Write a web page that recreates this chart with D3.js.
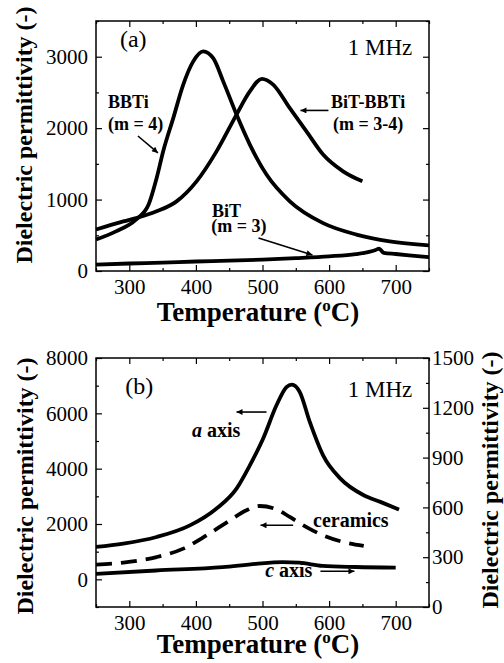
<!DOCTYPE html>
<html>
<head>
<meta charset="utf-8">
<script src="https://cdn.jsdelivr.net/npm/d3@7"></script>
<style>
  body { margin: 0; background: #fff; }
  svg { display: block; font-family: "Liberation Serif", "Times New Roman", serif; }
</style>
</head>
<body>
<div id="chart"></div>
<script>
// ---- panel (a): temperature (°C) vs permittivity
const bbtiT = [250, 280, 310, 329, 341, 351, 366, 381, 396, 411, 426, 441, 461, 481, 506, 541, 591, 641, 691, 750];
const bbtiV = [440, 555, 720, 930, 1300, 1680, 2140, 2610, 2935, 3075, 2980, 2655, 2190, 1770, 1350, 975, 670, 510, 415, 360];

const mixT = [250, 291, 312, 341, 371, 401, 431, 461, 481, 499, 516, 541, 566, 591, 621, 650];
const mixV = [580, 695, 745, 835, 975, 1255, 1675, 2190, 2515, 2690, 2610, 2280, 1955, 1630, 1395, 1255];

const bitT = [250, 300, 350, 400, 450, 500, 550, 600, 640, 660, 670, 675, 682, 700, 720, 750];
const bitV = [90, 105, 118, 133, 145, 160, 180, 205, 237, 268, 295, 312, 255, 238, 220, 195];

// ---- panel (b)
const aAxisT = [250, 291, 341, 391, 431, 461, 481, 501, 521, 536, 544, 556, 571, 591, 617, 652, 677, 705];
const aAxisV = [1170, 1290, 1530, 1950, 2560, 3280, 4120, 5090, 6290, 6950, 7040, 6770, 5690, 4480, 3640, 3040, 2800, 2520];

const ceramT = [250, 291, 341, 381, 416, 451, 476, 496, 521, 541, 566, 591, 621, 652];
const ceramV = [530, 605, 805, 1110, 1590, 2130, 2495, 2650, 2530, 2255, 1890, 1590, 1350, 1205];

// c axis is read against the right-hand scale
const cAxisT = [250, 340, 440, 490, 530, 555, 590, 640, 700];
const cAxisV = [200, 220, 240, 260, 270, 267, 248, 241, 237];

// ticks
const xMajor = [300, 400, 500, 600, 700];
const xMinor = [250, 350, 450, 550, 650, 750];
const yAMajor = [0, 1000, 2000, 3000];
const yAMinor = [500, 1500, 2500, 3500];
const yBMajor = [0, 2000, 4000, 6000, 8000];
const yBMinor = [-1000, 1000, 3000, 5000, 7000];
const yRMajor = [0, 300, 600, 900, 1200, 1500];
const yRMinor = [150, 450, 750, 1050, 1350];

const W = 504, H = 663;
const svg = d3.select('#chart').append('svg').attr('width', W).attr('height', H);

svg.append('defs').append('marker')
    .attr('id', 'head')
    .attr('viewBox', '0 0 10 10')
    .attr('refX', 10).attr('refY', 5)
    .attr('markerUnits', 'userSpaceOnUse')
    .attr('markerWidth', 9).attr('markerHeight', 6)
    .attr('orient', 'auto')
    .append('path').attr('d', 'M0,0L10,5L0,10z').attr('fill', '#000');

const x = d3.scaleLinear().domain([250, 750]).range([96, 429]);
const yA = d3.scaleLinear().domain([0, 3500]).range([271, 21]);
const yB = d3.scaleLinear().domain([-1000, 8000]).range([607, 358]);
const yR = d3.scaleLinear().domain([0, 1500]).range([607, 358]);
const fmt = d3.format('d');

function styleAxis(g) {
    g.select('.domain').remove();
    g.attr('font-family', null).attr('font-size', null);
    g.selectAll('line').attr('stroke', '#000').attr('stroke-width', 1.2);
    g.selectAll('text')
        .style('font-family', '"Liberation Serif", serif')
        .style('font-size', '21px')
        .attr('fill', '#000');
}

function panel(y, yMajor, yMinor, rightScale) {
    const [bottom, top] = y.range();
    const g = svg.append('g');

    // bottom axis
    g.append('g').attr('transform', `translate(0,${bottom})`)
        .call(d3.axisBottom(x).tickValues(xMajor).tickFormat(fmt).tickSizeInner(-6).tickSizeOuter(0).tickPadding(8))
        .call(styleAxis);
    g.append('g').attr('transform', `translate(0,${bottom})`)
        .call(d3.axisBottom(x).tickValues(xMinor).tickSizeInner(-3).tickSizeOuter(0).tickFormat(''))
        .call(styleAxis);
    // top axis
    g.append('g').attr('transform', `translate(0,${top})`)
        .call(d3.axisTop(x).tickValues(xMajor).tickSizeInner(-6).tickSizeOuter(0).tickFormat(''))
        .call(styleAxis);
    g.append('g').attr('transform', `translate(0,${top})`)
        .call(d3.axisTop(x).tickValues(xMinor).tickSizeInner(-3).tickSizeOuter(0).tickFormat(''))
        .call(styleAxis);
    // left axis
    g.append('g').attr('transform', `translate(${x.range()[0]},0)`)
        .call(d3.axisLeft(y).tickValues(yMajor).tickFormat(fmt).tickSizeInner(-6).tickSizeOuter(0).tickPadding(8))
        .call(styleAxis);
    g.append('g').attr('transform', `translate(${x.range()[0]},0)`)
        .call(d3.axisLeft(y).tickValues(yMinor).tickSizeInner(-3).tickSizeOuter(0).tickFormat(''))
        .call(styleAxis);
    // right axis
    if (rightScale) {
        g.append('g').attr('transform', `translate(${x.range()[1]},0)`)
            .call(d3.axisRight(rightScale).tickValues(yRMajor).tickFormat(fmt).tickSizeInner(-6).tickSizeOuter(0).tickPadding(3))
            .call(styleAxis);
        g.append('g').attr('transform', `translate(${x.range()[1]},0)`)
            .call(d3.axisRight(rightScale).tickValues(yRMinor).tickSizeInner(-3).tickSizeOuter(0).tickFormat(''))
            .call(styleAxis);
    } else {
        g.append('g').attr('transform', `translate(${x.range()[1]},0)`)
            .call(d3.axisRight(y).tickValues(yMajor).tickSizeInner(-6).tickSizeOuter(0).tickFormat(''))
            .call(styleAxis);
        g.append('g').attr('transform', `translate(${x.range()[1]},0)`)
            .call(d3.axisRight(y).tickValues(yMinor).tickSizeInner(-3).tickSizeOuter(0).tickFormat(''))
            .call(styleAxis);
    }

    // frame
    g.append('rect')
        .attr('x', x.range()[0]).attr('y', top)
        .attr('width', x.range()[1] - x.range()[0]).attr('height', bottom - top)
        .attr('fill', 'none').attr('stroke', '#000').attr('stroke-width', 1.5);

    // x label
    const xl = g.append('text')
        .attr('x', 258).attr('y', bottom + (rightScale ? 46 : 50))
        .attr('text-anchor', 'middle')
        .attr('font-size', 27).attr('font-weight', 'bold');
    xl.append('tspan').text('Temperature (');
    xl.append('tspan').attr('font-size', 17).attr('dy', -10).text('o');
    xl.append('tspan').attr('dy', 10).text('C)');

    return g;
}

function yLabel(xPos, yPos) {
    svg.append('text')
        .attr('transform', `translate(${xPos},${yPos}) rotate(-90)`)
        .attr('text-anchor', 'middle')
        .attr('font-size', 24).attr('font-weight', 'bold')
        .text('Dielectric permittivity (-)');
}

function curve(g, xs, vs, y, dash) {
    const line = d3.line()
        .x(d => x(d[0])).y(d => y(d[1]))
        .curve(d3.curveMonotoneX);
    g.append('path')
        .datum(d3.zip(xs, vs))
        .attr('d', line)
        .attr('fill', 'none')
        .attr('stroke', '#000')
        .attr('stroke-width', 3.8)
        .attr('stroke-linejoin', 'round')
        .attr('stroke-dasharray', dash || null);
}

function label(g, y, t, v, txt, opts = {}) {
    const el = g.append('text')
        .attr('x', x(t)).attr('y', y(v))
        .attr('text-anchor', opts.anchor || 'start')
        .attr('font-size', opts.size || 18)
        .attr('font-weight', opts.weight || 'bold');
    if (opts.italicFirst) {
        el.append('tspan').attr('font-style', 'italic').text(opts.italicFirst);
    }
    el.append('tspan').text(txt);
}

function arrow(g, y, t0, v0, t1, v1) {
    g.append('line')
        .attr('x1', x(t0)).attr('y1', y(v0))
        .attr('x2', x(t1)).attr('y2', y(v1))
        .attr('stroke', '#000').attr('stroke-width', 1.6)
        .attr('marker-end', 'url(#head)');
}

// ---------- panel (a)
const ga = panel(yA, yAMajor, yAMinor, null);
yLabel(32, 135);
curve(ga, bitT, bitV, yA);
curve(ga, bbtiT, bbtiV, yA);
curve(ga, mixT, mixV, yA);

label(ga, yA, 286, 3137, '(a)', { size: 24, weight: 'normal' });
label(ga, yA, 725, 3025, '1 MHz', { size: 23, weight: 'normal', anchor: 'end' });
label(ga, yA, 268, 2283, 'BBTi');
label(ga, yA, 268, 1975, '(m = 4)');
arrow(ga, yA, 313, 1890, 343, 1653);
label(ga, yA, 424, 756, 'BiT');
label(ga, yA, 423, 546, '(m = 3)');
arrow(ga, yA, 494, 462, 575, 224);
label(ga, yA, 603, 2283, 'BiT-BBTi');
label(ga, yA, 606, 1975, '(m = 3-4)');
arrow(ga, yA, 599, 2248, 557, 2248);

// ---------- panel (b)
const gb = panel(yB, yBMajor, yBMinor, yR);
yLabel(33, 486);
yLabel(498, 480);
curve(gb, cAxisT, cAxisV, yR);
curve(gb, ceramT, ceramV, yB, '16,9');
curve(gb, aAxisT, aAxisV, yB);

label(gb, yB, 294, 6687, '(b)', { size: 24, weight: 'normal' });
label(gb, yB, 725, 6579, '1 MHz', { size: 23, weight: 'normal', anchor: 'end' });
label(gb, yB, 394, 5133, ' axis', { size: 20, italicFirst: 'a' });
arrow(gb, yB, 506, 6047, 461, 6047);
label(gb, yB, 576, 1880, 'ceramics', { size: 20 });
arrow(gb, yB, 546, 1953, 497, 1953);
label(gb, yB, 504, 73, ' axis', { size: 20, italicFirst: 'c' });
arrow(gb, yB, 587, 290, 638, 290);
</script>
</body>
</html>
